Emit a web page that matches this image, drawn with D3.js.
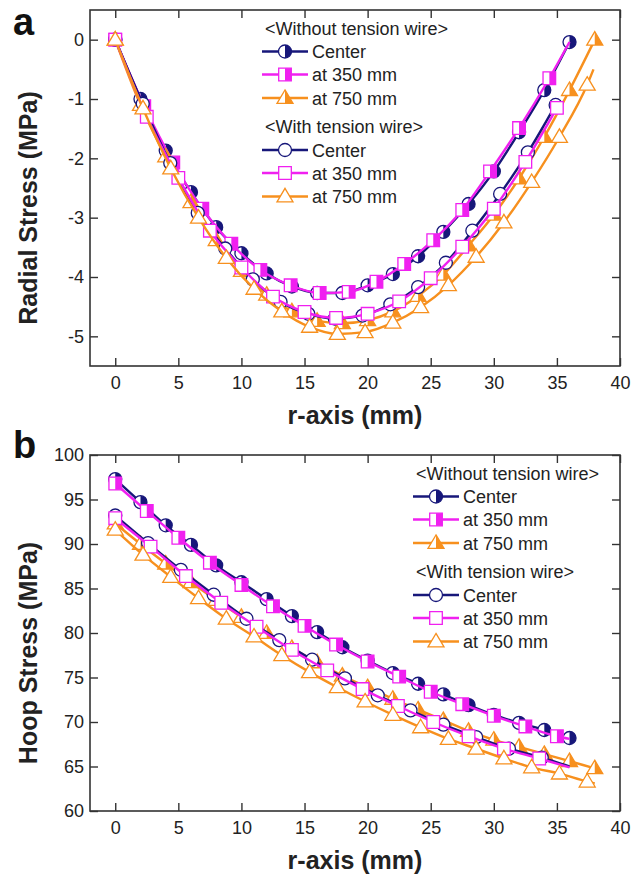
<!DOCTYPE html>
<html>
<head>
<meta charset="utf-8">
<script src="https://cdn.jsdelivr.net/npm/d3@7"></script>
<style>
  body { margin: 0; background: #fff; }
  text { font-family: "Liberation Sans", Arial, sans-serif; }
</style>
</head>
<body>
<div id="chart"></div>
<script>
// ---- data ----
const xTicks = [0, 5, 10, 15, 20, 25, 30, 35, 40]
const aYTicks = [0, -1, -2, -3, -4, -5]
const bYTicks = [60, 65, 70, 75, 80, 85, 90, 95, 100]

const groupLabels = ["<Without tension wire>", "<With tension wire>"]
const posLabels = ["Center", "at 350 mm", "at 750 mm"]

// (a) radial stress
const aWoCenterX = [0, 2, 4, 6, 8, 10, 12, 14, 16, 18, 20, 22, 24, 26, 28, 30, 32, 34, 36]
const aWoCenterY = [0, -1.0, -1.87, -2.57, -3.16, -3.6, -3.94, -4.16, -4.27, -4.27, -4.14, -3.95, -3.65, -3.24, -2.77, -2.22, -1.56, -0.85, -0.04]
const aWo350X = [0, 2.3, 4.6, 6.9, 9.2, 11.5, 13.9, 16.2, 18.5, 20.7, 22.9, 25.2, 27.5, 29.7, 32.0, 34.4]
const aWo350Y = [0, -1.12, -2.07, -2.85, -3.44, -3.88, -4.14, -4.27, -4.25, -4.08, -3.78, -3.38, -2.87, -2.22, -1.49, -0.65]
const aWo750X = [0, 2, 4, 6, 8, 10, 12, 14, 16, 18, 20, 22, 24, 26, 28, 30, 32, 34, 36, 38]
const aWo750Y = [0, -1.1, -1.97, -2.74, -3.38, -3.9, -4.3, -4.58, -4.74, -4.78, -4.73, -4.58, -4.32, -3.96, -3.47, -2.95, -2.34, -1.64, -0.85, 0]
const aWtCenterX = [0, 2.18, 4.36, 6.54, 8.72, 10.9, 13.1, 15.3, 17.4, 19.6, 21.8, 24.0, 26.2, 28.3, 30.5, 32.7, 34.9]
const aWtCenterY = [0, -1.08, -2.08, -2.92, -3.52, -4.04, -4.42, -4.62, -4.70, -4.65, -4.46, -4.17, -3.76, -3.22, -2.60, -1.90, -1.10]
const aWt350X = [0, 2.5, 5, 7.5, 10, 12.5, 15, 17.5, 20, 22.5, 25, 27.5, 30, 32.5, 35]
const aWt350Y = [0, -1.30, -2.33, -3.22, -3.84, -4.33, -4.59, -4.69, -4.62, -4.41, -4.02, -3.49, -2.85, -2.06, -1.15]
const aWt750X = [0, 2.2, 4.4, 6.6, 8.8, 11, 13.2, 15.4, 17.6, 19.8, 22, 24.2, 26.4, 28.6, 30.8, 33, 35.2, 37.4]
const aWt750Y = [0, -1.16, -2.17, -3.0, -3.68, -4.2, -4.58, -4.84, -4.96, -4.93, -4.77, -4.51, -4.14, -3.66, -3.08, -2.40, -1.64, -0.76]
// where a line runs on past its last marker
const aLineEnds = [null, [36, -0.04], null, null, null, [37.9, -0.5]]

// (b) hoop stress
const bWoCenterX = [0, 2, 4, 6, 8, 10, 12, 14, 16, 18, 20, 22, 24, 26, 28, 30, 32, 34, 36]
const bWoCenterY = [97.3, 94.7, 92.1, 89.9, 87.6, 85.7, 83.8, 81.9, 80.1, 78.4, 76.9, 75.5, 74.3, 73.1, 71.9, 70.8, 69.9, 69.1, 68.2]
const bWo350X = [0, 2.5, 5, 7.5, 10, 12.5, 15, 17.5, 20, 22.5, 25, 27.5, 30, 32.5, 35]
const bWo350Y = [96.8, 93.7, 90.7, 87.9, 85.4, 83.0, 80.8, 78.7, 76.8, 75.1, 73.4, 72.0, 70.7, 69.5, 68.4]
const bWo750X = [0, 2, 4, 6, 8, 10, 12, 14, 16, 18, 20, 22, 24, 26, 28, 30, 32, 34, 36, 38]
const bWo750Y = [92.3, 90.0, 87.8, 85.7, 83.7, 81.8, 80.0, 78.3, 76.7, 75.2, 73.9, 72.6, 71.4, 70.2, 69.0, 68.0, 67.2, 66.4, 65.6, 64.8]
const bWtCenterX = [0, 2.6, 5.2, 7.8, 10.4, 13, 15.6, 18.2, 20.8, 23.4, 26, 28.6, 31.2, 33.8]
const bWtCenterY = [93.2, 90.1, 87.1, 84.3, 81.6, 79.2, 77.0, 74.9, 73.0, 71.3, 69.7, 68.3, 67.0, 66.0]
const bWt350X = [0, 2.8, 5.6, 8.4, 11.2, 14, 16.8, 19.6, 22.4, 25.2, 28, 30.8, 33.6]
const bWt350Y = [92.9, 89.7, 86.4, 83.4, 80.7, 78.1, 75.8, 73.7, 71.8, 70.0, 68.4, 67.0, 65.9]
const bWt750X = [0, 2.2, 4.4, 6.6, 8.8, 11, 13.2, 15.4, 17.6, 19.8, 22, 24.2, 26.4, 28.6, 30.8, 33, 35.2, 37.4]
const bWt750Y = [91.6, 88.8, 86.3, 83.9, 81.6, 79.6, 77.5, 75.6, 73.9, 72.3, 70.8, 69.4, 68.1, 67.0, 65.9, 64.9, 64.2, 63.3]
const bLineEnds = [null, [36, 68.1], null, [36, 65.0], [36, 64.9], [38, 63.1]]

// ---- styles ----
const colors = ["#17177a", "#f020f0", "#f7901e"]
const shapes = ["circle", "square", "triangle"]

const width = 643, height = 878
const left = 90, right = 620

const svg = d3.select("#chart").append("svg")
  .attr("width", width)
  .attr("height", height)

const xScale = d3.scaleLinear().domain([-2, 40]).range([left, right])

function makeSeries(xs, ys, ends) {
  // 3 without-wire (half filled), then 3 with-wire (open)
  return xs.map((x, i) => ({
    pts: x.map((v, j) => [v, ys[i][j]]),
    end: ends[i],
    color: colors[i % 3],
    shape: shapes[i % 3],
    half: i < 3
  }))
}

function shapePath(shape, cx, cy) {
  if (shape == "circle") {
    const r = 6.5
    return `M${cx - r},${cy}A${r},${r} 0 1 1 ${cx + r},${cy}A${r},${r} 0 1 1 ${cx - r},${cy}Z`
  } else if (shape == "square") {
    const s = 6.3
    return `M${cx - s},${cy - s}H${cx + s}V${cy + s}H${cx - s}Z`
  } else {
    const w = 8, h = 13.5
    return `M${cx},${cy - h * 0.6}L${cx + w},${cy + h * 0.4}L${cx - w},${cy + h * 0.4}Z`
  }
}

function halfPath(shape, cx, cy) {
  if (shape == "circle") {
    const r = 6.5
    return `M${cx},${cy - r}A${r},${r} 0 0 1 ${cx},${cy + r}Z`
  } else if (shape == "square") {
    const s = 6.3
    return `M${cx},${cy - s}H${cx + s}V${cy + s}H${cx}Z`
  } else {
    const w = 8, h = 13.5
    return `M${cx},${cy - h * 0.6}L${cx + w},${cy + h * 0.4}L${cx},${cy + h * 0.4}Z`
  }
}

function drawMarker(g, s, cx, cy) {
  g.append("path").attr("d", shapePath(s.shape, cx, cy))
    .attr("fill", "#fff").attr("stroke", "none")
  if (s.half) {
    g.append("path").attr("d", halfPath(s.shape, cx, cy)).attr("fill", s.color)
  }
  g.append("path").attr("d", shapePath(s.shape, cx, cy))
    .attr("fill", "none").attr("stroke", s.color).attr("stroke-width", 1.3)
}

function drawPanel(cfg) {
  const yScale = d3.scaleLinear().domain(cfg.yDomain).range([cfg.bottom, cfg.top])
  const g = svg.append("g")

  // axes, ticks pointing inward on all four sides
  g.append("g")
    .attr("transform", `translate(0, ${cfg.bottom})`)
    .call(d3.axisBottom(xScale).tickValues(xTicks).tickSizeInner(-8).tickSizeOuter(0).tickPadding(10).tickFormat(d => d))
  g.append("g")
    .attr("transform", `translate(0, ${cfg.top})`)
    .call(d3.axisTop(xScale).tickValues(xTicks).tickSizeInner(-8).tickSizeOuter(0).tickFormat(""))
  g.append("g")
    .attr("transform", `translate(${left}, 0)`)
    .call(d3.axisLeft(yScale).tickValues(cfg.yTicks).tickSizeInner(-8).tickSizeOuter(0).tickPadding(6).tickFormat(d => d))
  g.append("g")
    .attr("transform", `translate(${right}, 0)`)
    .call(d3.axisRight(yScale).tickValues(cfg.yTicks).tickSizeInner(-8).tickSizeOuter(0).tickFormat(""))

  g.selectAll(".domain").remove()
  g.selectAll(".tick line").attr("stroke", "#333").attr("stroke-width", 1.4)
  g.selectAll(".tick text").attr("font-size", 18).attr("fill", "#222")
    .style("font-family", '"Liberation Sans", Arial, sans-serif')

  g.append("rect")
    .attr("x", left).attr("y", cfg.top)
    .attr("width", right - left).attr("height", cfg.bottom - cfg.top)
    .attr("fill", "none").attr("stroke", "#333").attr("stroke-width", 1.6)

  // series
  const line = d3.line()
    .x(d => xScale(d[0]))
    .y(d => yScale(d[1]))
    .curve(d3.curveMonotoneX)

  cfg.series.forEach(s => {
    const pts = s.end ? s.pts.concat([s.end]) : s.pts
    g.append("path").datum(pts)
      .attr("d", line)
      .attr("fill", "none")
      .attr("stroke", s.color)
      .attr("stroke-width", 2.4)
    const mg = g.append("g")
    s.pts.forEach(p => drawMarker(mg, s, xScale(p[0]), yScale(p[1])))
  })

  // legend
  const L = cfg.legend
  const rowY = [18, 41.5, 64.5, 88, 116.5, 140, 163, 186.5].map(v => v + cfg.top)
  groupLabels.forEach((lab, gi) => {
    g.append("text")
      .attr("x", L.x + 3).attr("y", rowY[gi * 4] + 6.5)
      .attr("font-size", 18).attr("fill", "#222")
      .text(lab)
    posLabels.forEach((p, pi) => {
      const s = cfg.series[gi * 3 + pi]
      const yy = rowY[gi * 4 + pi + 1]
      g.append("line")
        .attr("x1", L.x).attr("x2", L.x + 46)
        .attr("y1", yy).attr("y2", yy)
        .attr("stroke", s.color).attr("stroke-width", 2.4)
      drawMarker(g, s, L.x + 23, yy)
      g.append("text")
        .attr("x", L.x + 50).attr("y", yy + 6.5)
        .attr("font-size", 18).attr("fill", "#222")
        .text(p)
    })
  })

  // titles
  g.append("text")
    .attr("x", (left + right) / 2).attr("y", cfg.bottom + 58)
    .attr("text-anchor", "middle")
    .attr("font-size", 25).attr("font-weight", "bold").attr("fill", "#222")
    .text("r-axis (mm)")
  g.append("text")
    .attr("transform", `translate(37, ${(cfg.top + cfg.bottom) / 2 + 20}) rotate(-90)`)
    .attr("text-anchor", "middle")
    .attr("font-size", 25).attr("font-weight", "bold").attr("fill", "#222")
    .text(cfg.yTitle)
  g.append("text")
    .attr("x", 13).attr("y", cfg.letterY)
    .attr("font-size", 38).attr("font-weight", "bold").attr("fill", "#111")
    .text(cfg.letter)
}

drawPanel({
  top: 10, bottom: 366,
  yDomain: [-5.5, 0.5], yTicks: aYTicks,
  series: makeSeries(
    [aWoCenterX, aWo350X, aWo750X, aWtCenterX, aWt350X, aWt750X],
    [aWoCenterY, aWo350Y, aWo750Y, aWtCenterY, aWt350Y, aWt750Y],
    aLineEnds),
  legend: { x: 262 },
  yTitle: "Radial Stress (MPa)",
  letter: "a", letterY: 35
})

drawPanel({
  top: 455, bottom: 811,
  yDomain: [60, 100], yTicks: bYTicks,
  series: makeSeries(
    [bWoCenterX, bWo350X, bWo750X, bWtCenterX, bWt350X, bWt750X],
    [bWoCenterY, bWo350Y, bWo750Y, bWtCenterY, bWt350Y, bWt750Y],
    bLineEnds),
  legend: { x: 413 },
  yTitle: "Hoop Stress (MPa)",
  letter: "b", letterY: 458
})
</script>
</body>
</html>
